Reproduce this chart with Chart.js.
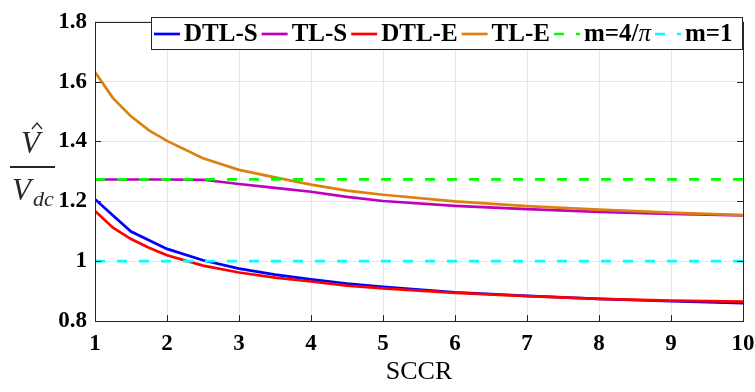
<!DOCTYPE html>
<html>
<head>
<meta charset="utf-8">
<script src="https://cdn.jsdelivr.net/npm/chart.js@4.4.1/dist/chart.umd.min.js"></script>
<style>
  html, body { margin: 0; padding: 0; background: #fff; }
  canvas { display: block; }
</style>
</head>
<body>
<canvas id="ratio-chart" width="755" height="392"></canvas>
<script>
// SCCR sample points and peak voltage ratio for each method
const sccr = [1, 1.25, 1.5, 1.75, 2, 2.5, 3, 3.5, 4, 4.5, 5, 6, 7, 8, 9, 10];
const dtlS = [1.207, 1.153, 1.099, 1.070, 1.041, 1.003, 0.975, 0.955, 0.939, 0.925, 0.914, 0.896, 0.884, 0.874, 0.866, 0.860];
const tlS  = [1.273, 1.273, 1.273, 1.273, 1.273, 1.272, 1.258, 1.245, 1.232, 1.215, 1.201, 1.185, 1.174, 1.165, 1.158, 1.153];
const dtlE = [1.168, 1.112, 1.074, 1.045, 1.020, 0.985, 0.962, 0.945, 0.932, 0.918, 0.909, 0.894, 0.883, 0.874, 0.868, 0.865];
const tlE  = [1.632, 1.545, 1.484, 1.437, 1.402, 1.344, 1.305, 1.280, 1.256, 1.236, 1.222, 1.200, 1.184, 1.172, 1.162, 1.154];

// Reference modulation index lines
const refX = [1, 10];
const m4pi = [1.2732, 1.2732];
const m1   = [1, 1];

const seriesNames = ['DTL-S', 'TL-S', 'DTL-E', 'TL-E', 'm=4/\u03C0', 'm=1'];
const xTicks = [1, 2, 3, 4, 5, 6, 7, 8, 9, 10];
const yTicks = [0.8, 1, 1.2, 1.4, 1.6, 1.8];

const AXIS = '#262626';
const SERIF = '"Liberation Serif", "Times New Roman", serif';

function pts(xs, ys) {
    return xs.map((x, i) => ({ x: x, y: ys[i] }));
}

function line(label, data, color, dash) {
    return {
        label: label,
        data: data,
        borderColor: color,
        backgroundColor: color,
        borderWidth: 2.7,
        borderDash: dash || [],
        pointRadius: 0,
        tension: 0,
        fill: false
    };
}

const datasets = [
    line(seriesNames[0], pts(sccr, dtlS), '#0000ff'),
    line(seriesNames[1], pts(sccr, tlS), '#c000c0'),
    line(seriesNames[2], pts(sccr, dtlE), '#ff0000'),
    line(seriesNames[3], pts(sccr, tlE), '#dd8010'),
    line(seriesNames[4], pts(refX, m4pi), '#00ff00', [10, 12]),
    line(seriesNames[5], pts(refX, m1), '#00ffff', [10, 12])
];
// later series sit on top
datasets.forEach((ds, i) => { ds.order = datasets.length - i; });

// Axes box with inward ticks
const framePlugin = {
    id: 'frame',
    afterDatasetsDraw(chart) {
        const { ctx, chartArea: a, scales } = chart;
        ctx.save();
        ctx.strokeStyle = AXIS;
        ctx.lineWidth = 1;
        ctx.beginPath();
        scales.x.ticks.forEach(t => {
            const px = Math.round(scales.x.getPixelForValue(t.value)) + 0.5;
            ctx.moveTo(px, a.bottom); ctx.lineTo(px, a.bottom - 6);
            ctx.moveTo(px, a.top); ctx.lineTo(px, a.top + 6);
        });
        scales.y.ticks.forEach(t => {
            const py = Math.round(scales.y.getPixelForValue(t.value)) + 0.5;
            ctx.moveTo(a.left, py); ctx.lineTo(a.left + 6, py);
            ctx.moveTo(a.right, py); ctx.lineTo(a.right - 6, py);
        });
        ctx.stroke();
        ctx.strokeRect(Math.round(a.left) + 0.5, Math.round(a.top) + 0.5,
            Math.round(a.right - a.left), Math.round(a.bottom - a.top));
        ctx.restore();
    }
};

// Fraction-style y label: V-hat over V_dc
const yLabelPlugin = {
    id: 'yLabel',
    afterDraw(chart) {
        const ctx = chart.ctx;
        ctx.save();
        ctx.fillStyle = AXIS;
        ctx.strokeStyle = AXIS;
        ctx.textBaseline = 'alphabetic';
        ctx.textAlign = 'left';
        ctx.font = 'italic 31px ' + SERIF;
        ctx.fillText('V', 21, 153);
        // hat
        ctx.lineWidth = 1.3;
        ctx.beginPath();
        ctx.moveTo(32, 129);
        ctx.lineTo(37, 123);
        ctx.lineTo(42, 129);
        ctx.stroke();
        // fraction bar
        ctx.lineWidth = 2;
        ctx.beginPath();
        ctx.moveTo(10, 167);
        ctx.lineTo(55, 167);
        ctx.stroke();
        ctx.fillText('V', 12, 200);
        ctx.font = 'italic 22px ' + SERIF;
        ctx.fillText('dc', 33, 206);
        ctx.restore();
    }
};

// Boxed single-row legend across the top of the plot
const legendPlugin = {
    id: 'boxLegend',
    afterDraw(chart) {
        const ctx = chart.ctx;
        const left = 151, top = 17, right = 742, bottom = 49;
        const mid = 34, base = 41;
        ctx.save();
        ctx.fillStyle = '#ffffff';
        ctx.fillRect(left, top, right - left, bottom - top);
        ctx.strokeStyle = AXIS;
        ctx.lineWidth = 1;
        ctx.strokeRect(left + 0.5, top + 0.5, right - left, bottom - top);

        let x = 154;
        ctx.textBaseline = 'alphabetic';
        ctx.textAlign = 'left';
        chart.data.datasets.forEach(ds => {
            ctx.strokeStyle = ds.borderColor;
            ctx.lineWidth = ds.borderWidth;
            ctx.setLineDash(ds.borderDash);
            ctx.beginPath();
            ctx.moveTo(x, mid);
            ctx.lineTo(x + 26, mid);
            ctx.stroke();
            ctx.setLineDash([]);
            x += 30;
            ctx.fillStyle = '#000';
            for (const ch of ds.label) {
                ctx.font = ch === '\u03C0' ? 'italic 25px ' + SERIF : 'bold 25px ' + SERIF;
                ctx.fillText(ch, x, base);
                x += ctx.measureText(ch).width;
            }
            x += 4;
        });
        ctx.restore();
    }
};

const tickFont = { family: SERIF, size: 23, weight: 'bold' };

new Chart(document.getElementById('ratio-chart'), {
    type: 'line',
    data: { datasets: datasets },
    options: {
        responsive: false,
        animation: false,
        devicePixelRatio: 1,
        layout: { padding: { top: 17, right: 12, left: 0, bottom: 0 } },
        plugins: {
            legend: { display: false },
            tooltip: { enabled: false }
        },
        scales: {
            x: {
                type: 'linear',
                min: 1,
                max: 10,
                afterBuildTicks: scale => { scale.ticks = xTicks.map(v => ({ value: v })); },
                afterFit: scale => {
                    scale.height = 71;
                    scale.paddingLeft = 0;
                    scale.paddingRight = 0;
                },
                ticks: { font: tickFont, color: '#000', padding: 9, maxRotation: 0, autoSkip: false },
                grid: { color: '#e6e6e6', drawTicks: false },
                border: { display: false },
                title: {
                    display: true,
                    text: 'SCCR',
                    font: { family: SERIF, size: 26 },
                    color: '#000',
                    padding: { top: 3 }
                }
            },
            y: {
                min: 0.8,
                max: 1.8,
                afterBuildTicks: scale => { scale.ticks = yTicks.map(v => ({ value: v })); },
                afterFit: scale => { scale.width = 95; },
                ticks: { font: tickFont, color: '#000', padding: 8, callback: v => String(v) },
                grid: { color: '#e6e6e6', drawTicks: false },
                border: { display: false }
            }
        }
    },
    plugins: [framePlugin, yLabelPlugin, legendPlugin]
});
</script>
</body>
</html>
